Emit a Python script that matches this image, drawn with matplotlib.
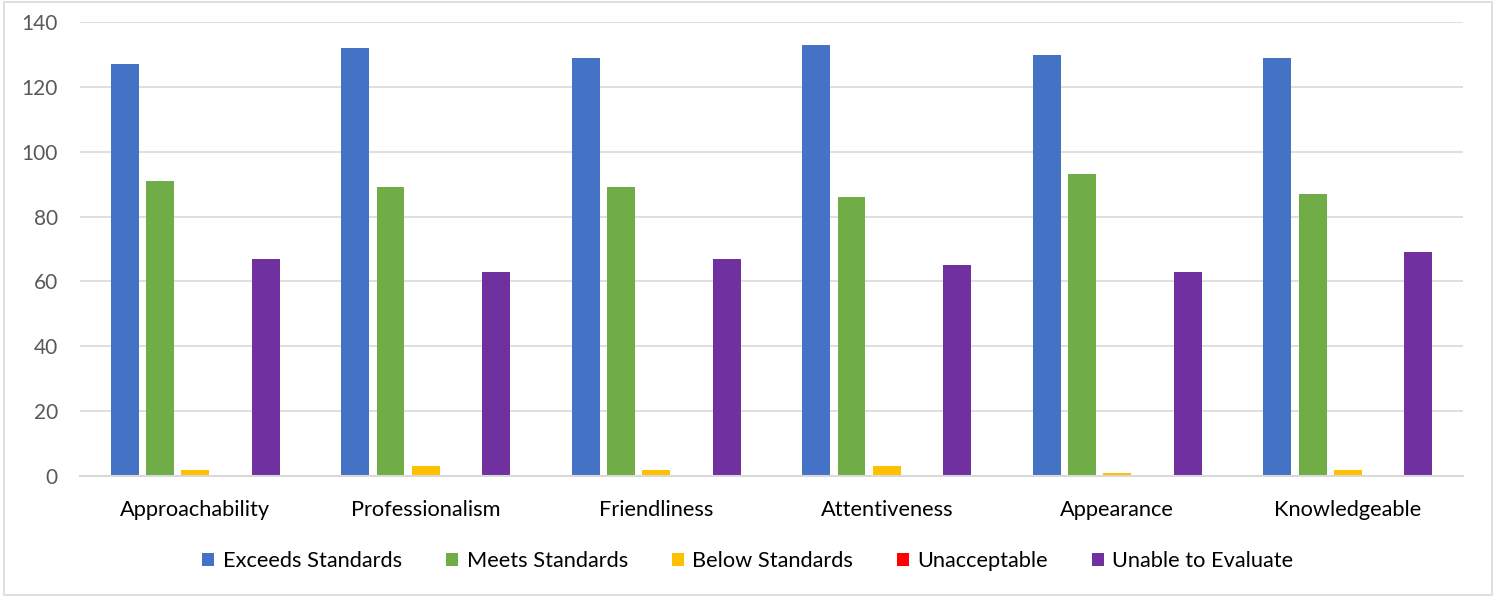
import numpy as np
import matplotlib.pyplot as plt
from matplotlib.patches import Rectangle

# Umfrageergebnisse pro Kategorie
categories = ['Approachability', 'Professionalism', 'Friendliness',
              'Attentiveness', 'Appearance', 'Knowledgeable']
exceeds = [127, 132, 129, 133, 130, 129]
meets = [91, 89, 89, 86, 93, 87]
below = [2, 3, 2, 3, 1, 2]
unacceptable = [0, 0, 0, 0, 0, 0]
unable = [67, 63, 67, 65, 63, 69]

series = [
    ('Exceeds Standards', exceeds, '#4472C4'),
    ('Meets Standards', meets, '#70AD47'),
    ('Below Standards', below, '#FFC000'),
    ('Unacceptable', unacceptable, '#FF0000'),
    ('Unable to Evaluate', unable, '#7030A0'),
]

plt.rcParams['font.family'] = ['Lato', 'DejaVu Sans']

fig = plt.figure(figsize=(14.96, 5.97), dpi=100)
ax = fig.add_axes([0.0535, 0.2027, 0.9245, 0.7603])

x = np.arange(len(categories))
slot = 0.153
width = 0.121
for i, (name, vals, col) in enumerate(series):
    ax.bar(x + (i - 2) * slot, vals, width, color=col, label=name, zorder=3)

ax.set_xlim(-0.5, len(categories) - 0.5)
ax.set_ylim(0, 140)
ax.set_yticks(range(0, 141, 20))
ax.set_xticks(x)
ax.set_xticklabels(categories)
ax.grid(axis='y', color='#D9D9D9', linewidth=1.2, zorder=0)
for s in ['top', 'right', 'left']:
    ax.spines[s].set_visible(False)
ax.spines['bottom'].set_color('#D9D9D9')
ax.spines['bottom'].set_linewidth(1.5)
ax.spines['bottom'].set_zorder(4)
ax.tick_params(axis='y', length=0, pad=16, labelsize=15, labelcolor='#595959')
ax.tick_params(axis='x', length=0, pad=17, labelsize=15.7, labelcolor='#000000')

leg = fig.legend(loc='center', bbox_to_anchor=(0.5, 0.06), ncol=5, frameon=False,
                 fontsize=15.7, handlelength=0.55, handleheight=0.55, handletextpad=0.4,
                 columnspacing=2.0)

# Rahmen um das Diagramm
fig.patches.append(Rectangle((0.003, 0.003), 0.994, 0.994, transform=fig.transFigure,
                             fill=False, edgecolor='#D9D9D9', linewidth=1.2))

fig.savefig('out.png', dpi=100)
